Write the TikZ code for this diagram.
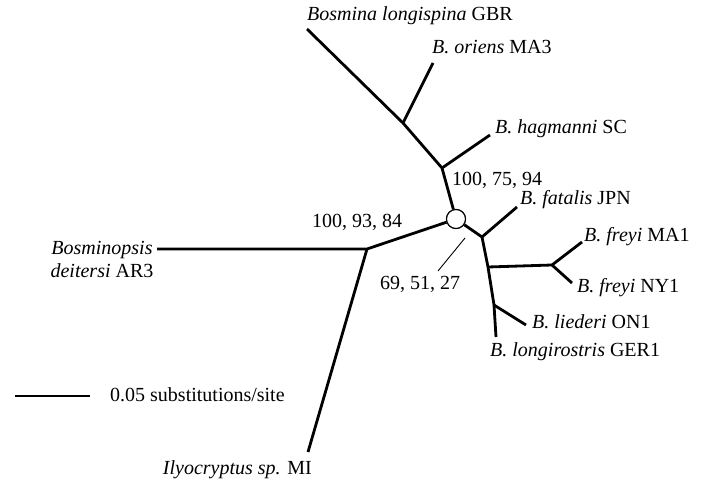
\documentclass[tikz,border=0pt]{standalone}
\usepackage{fontspec}
\setmainfont{Liberation Serif}
\usetikzlibrary{positioning}
\tikzstyle{branch} = [line width=2.8pt, line join=round]
\tikzstyle{taxon} = [inner sep=0pt, font=\fontsize{20}{22}\selectfont]
\tikzstyle{hub} = [circle, draw=black, fill=white, line width=1.1pt, minimum size=19pt, inner sep=0pt]
\tikzstyle{pointer} = [line width=0.9pt]

\begin{document}
\begin{tikzpicture}[x=1pt, y=-1pt]
        \useasboundingbox (0,0) rectangle (702,481);
        % branch points and tips
        \coordinate (gbr) at (307,29);
        \coordinate (j1) at (403,123);
        \coordinate (ma3) at (433,63);
        \coordinate (j2) at (442,168);
        \coordinate (sc) at (490,135);
        \coordinate (j3) at (482,237);
        \coordinate (jpn) at (517,207);
        \coordinate (j4) at (488,267);
        \coordinate (j5) at (552,265);
        \coordinate (ma1) at (582,242);
        \coordinate (ny1) at (572,283);
        \coordinate (j6) at (494,305);
        \coordinate (on1) at (526,325);
        \coordinate (ger1) at (496,337);
        \coordinate (j7) at (367,249);
        \coordinate (ar3) at (157,249);
        \coordinate (mi) at (308,452);
        \coordinate (barL) at (15,396);
        \coordinate (barR) at (90,396);
        \node (hub) [hub] at (456,219) {};

        \draw [branch] (gbr) -- (j1) -- (j2) -- (hub);
        \draw [branch] (j1) -- (ma3);
        \draw [branch] (j2) -- (sc);
        \draw [branch] (hub) -- (j3) -- (jpn);
        \draw [branch] (j3) -- (j4) -- (j6) -- (ger1);
        \draw [branch] (j4) -- (j5) -- (ma1);
        \draw [branch] (j5) -- (ny1);
        \draw [branch] (j6) -- (on1);
        \draw [branch] (hub) -- (j7) -- (ar3);
        \draw [branch] (j7) -- (mi);
        \node (hub) [hub] at (456,219) {};

        % taxa
        \node (lgbr) [taxon, anchor=base west] at (307,21) {\textit{Bosmina longispina} GBR};
        \node (lma3) [taxon, anchor=base west] at (432,54) {\textit{B. oriens} MA3};
        \node (lsc) [taxon, anchor=base west] at (495,134) {\textit{B. hagmanni} SC};
        \node (ljpn) [taxon, anchor=base west] at (520,205) {\textit{B. fatalis} JPN};
        \node (lma1) [taxon, anchor=base west] at (584,242) {\textit{B. freyi} MA1};
        \node (lny1) [taxon, anchor=base west] at (577,293) {\textit{B. freyi} NY1};
        \node (lon1) [taxon, anchor=base west] at (532,329) {\textit{B. liederi} ON1};
        \node (lger1) [taxon, anchor=base west] at (490,356) {\textit{B. longirostris} GER1};
        \node (lar3a) [taxon, anchor=base] at (102,255) {\textit{Bosminopsis}};
        \node (lar3b) [taxon, anchor=base] at (102,278) {\textit{deitersi} AR3};
        \node (lmi) [taxon, anchor=base east] at (312,474) {\textit{Ilyocryptus sp.} MI};

        % support values
        \node (s1) [taxon, anchor=base west] at (452,186) {100, 75, 94};
        \node (s2) [taxon, anchor=base west] at (312,228) {100, 93, 84};
        \node (s3) [taxon, anchor=base west] at (380,290) {69, 51, 27};
        \coordinate (tick) at (465,238);
        \coordinate (tickend) at (438,271);
        \draw [pointer] (tick) -- (tickend);

        % scale bar
        \draw [branch] (barL) -- (barR);
        \node (lbar) [taxon, anchor=base west] at (110,401) {0.05 substitutions/site};
\end{tikzpicture}
\end{document}
